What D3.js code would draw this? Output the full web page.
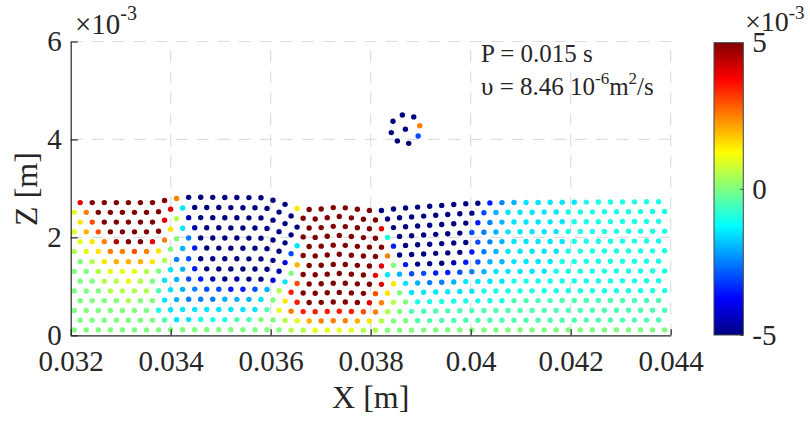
<!DOCTYPE html>
<html>
<head>
<meta charset="utf-8">
<script src="https://cdn.jsdelivr.net/npm/d3@7"></script>
<style>
  body { margin: 0; background: #fff; }
  svg text { font-family: "Liberation Serif", "Times New Roman", serif; fill: #262626; }
</style>
</head>
<body>
<div id="visualization"></div>
<script>
// one string per particle row, bottom row first (groups of 10 for reading).
// letter = particle value: a = -5, k = 0, u = +5 (x10^-3), 0.5 per letter
let rowValues = [
  "kkkkkkkkkk kkkkkkkkll mmmmllkkkk kkkkkkkkkk kkkkkkkkkk",
  "kkkkkkkjhh iiijjkklmo ppponlkkjj jjjjjjjjjj jjjjjjjjj",
  "kkkkkkkihh hhhhhhjmpr rrrrqplkjj jjjjjjjjjj jjjjjjjjjj",
  "kkkklkkhgf ffggghknru uuuusplkii iiiiiijjjj jjjjjjjjj",
  "kkklllljhg feeddeglru uuuuuqnkhh hhhhiiiiii iiiiiiiiii",
  "kkllmlkhge dbabaachqu uuuuusnhgf fghhhhiiii iiiiiiiii",
  "kklmmmlkhg daaaaaabku uuuuushgee ddefghhhhh iiiiiiiiii",
  "klnooonlfe aaaaaaacou uuuuuskdaa abdegghhhh iiiiiiiii",
  "lmnppqpnkg daaaaaaaeu uuuuuupaaa aaadfghhhh hiiiiiiiii",
  "mnptuuspkf aaaaaaaahu uuuuuudaaa aaaefghhhh hiiiiiiii",
  "moquuuuunh baaaaaaaau uuuuuuiaaa aaaefghhhh hiiiiiiiii",
  "nquuuuuslb aaaaaaaaau uuuuusaaaa aaadfghhhh hiiiiiiii",
  "mpuuuuuush aaaaaaaaau uuuuuuaaaa aaaaeghhhh hiiiiiiiii",
  "suuuuuuupa aaaaaaaanu uuuuuaaaaa aaaadfghhh hhiiiiiii"
];
let rowZ = [0.11, 0.31, 0.51, 0.71, 0.91, 1.11, 1.31, 1.51, 1.72, 1.92, 2.12, 2.32, 2.52, 2.72]; // x10^-3 m
let rowStartX = [0.03207, 0.03219]; // even rows, odd rows
let particleGap = 0.000241;

// free surface height along the tank (x10^-3 m)
let surfaceX = [0.0320, 0.03369, 0.03399, 0.03439, 0.03589, 0.03627, 0.03653, 0.03685, 0.03735, 0.03785, 0.03813, 0.03855, 0.03923, 0.03995, 0.04059, 0.0440];
let surfaceZ = [2.71, 2.71, 2.78, 2.82, 2.81, 2.68, 2.59, 2.56, 2.62, 2.56, 2.54, 2.59, 2.64, 2.69, 2.71, 2.73];

// droplet above the surface
let dropX = [0.038633, 0.038861, 0.038446, 0.038981, 0.038694, 0.038412, 0.038949, 0.038533, 0.038760];
let dropZ = [4.50, 4.46, 4.37, 4.28, 4.21, 4.14, 4.07, 3.97, 3.92];
let dropValues = [-5, -5, -5, 2.5, -5, -5, -3, -5, -5];

let xTicks = [0.032, 0.034, 0.036, 0.038, 0.04, 0.042, 0.044];
let xTickLabels = ["0.032", "0.034", "0.036", "0.038", "0.04", "0.042", "0.044"];
let zTicks = [0, 2, 4, 6];
let colorTicks = [-5, 0, 5];

let jetValues = [-5, -3.75, -1.25, 1.25, 3.75, 5];
let jetColors = ["#000080", "#0000ff", "#00ffff", "#ffff00", "#ff0000", "#800000"];

let serif = "'Liberation Serif', 'Times New Roman', serif";

let x = d3.scaleLinear().domain([0.032, 0.044]).range([70.7, 670.7]);
let z = d3.scaleLinear().domain([0, 6]).range([335.3, 41.5]);
let cbar = d3.scaleLinear().domain([-5, 5]).range([335, 42.7]);
let jet = d3.scaleLinear().domain(jetValues).range(jetColors).clamp(true);
let surface = d3.scaleLinear().domain(surfaceX).range(surfaceZ).clamp(true);

let particles = [];
rowValues.forEach((row, r) => {
  row.replace(/ /g, "").split("").forEach((c, i) => {
    let px = rowStartX[r % 2] + i * particleGap;
    particles.push({
      x: px,
      z: rowZ[r] * surface(px) / rowZ[rowZ.length - 1],
      v: (c.charCodeAt(0) - 97) * 0.5 - 5
    });
  });
});
dropX.forEach((d, i) => particles.push({x: d, z: dropZ[i], v: dropValues[i]}));

let svg = d3.select("#visualization").append("svg")
  .attr("width", 810)
  .attr("height", 421)
  .attr("font-family", serif);

// grid
svg.append("g").selectAll("line")
  .data(xTicks.slice(1))
  .enter().append("line")
  .attr("x1", d => x(d)).attr("x2", d => x(d))
  .attr("y1", z(0)).attr("y2", z(6))
  .attr("stroke", "#dedede").attr("stroke-width", 1.2)
  .attr("stroke-dasharray", "12,9");

svg.append("g").selectAll("line")
  .data(zTicks.slice(1))
  .enter().append("line")
  .attr("x1", x(0.032)).attr("x2", x(0.044))
  .attr("y1", d => z(d)).attr("y2", d => z(d))
  .attr("stroke", "#dedede").attr("stroke-width", 1.2)
  .attr("stroke-dasharray", "12,9");

// particles
svg.append("g").selectAll("circle")
  .data(particles)
  .enter().append("circle")
  .attr("cx", d => x(d.x))
  .attr("cy", d => z(d.z))
  .attr("r", 2.7)
  .attr("fill", d => jet(d.v));

// axes
let xAxis = svg.append("g")
  .attr("transform", "translate(0," + z(0) + ")")
  .call(d3.axisBottom(x).tickValues(xTicks).tickFormat((d, i) => xTickLabels[i])
    .tickSizeInner(-6).tickSizeOuter(0).tickPadding(15));

let zAxis = svg.append("g")
  .attr("transform", "translate(" + x(0.032) + ",0)")
  .call(d3.axisLeft(z).tickValues(zTicks).tickFormat(d => String(d))
    .tickSizeInner(-7).tickSizeOuter(0).tickPadding(9));

[xAxis, zAxis].forEach(a => {
  a.attr("font-family", serif);
  a.selectAll("path, line").attr("stroke", "#262626").attr("stroke-width", 1.2);
  a.selectAll("text").attr("font-size", 29).attr("fill", "#262626")
    .attr("font-family", serif).style("font-family", serif);
});

svg.append("text")
  .attr("x", 75).attr("y", 34)
  .attr("font-size", 29)
  .text("\u00d710")
  .append("tspan").attr("dy", -14).attr("font-size", 20).text("-3");

svg.append("text")
  .attr("x", x(0.038))
  .attr("y", 408)
  .attr("text-anchor", "middle")
  .attr("font-size", 32)
  .text("X [m]");

svg.append("text")
  .attr("transform", "translate(37,189) rotate(-90)")
  .attr("text-anchor", "middle")
  .attr("font-size", 32)
  .text("Z [m]");

// annotation
svg.append("text")
  .attr("x", 481).attr("y", 62)
  .attr("font-size", 25)
  .text("P = 0.015 s");

let nu = svg.append("text")
  .attr("x", 481).attr("y", 95)
  .attr("font-size", 25);
nu.append("tspan").text("\u03c5 = 8.46 10");
nu.append("tspan").attr("dy", -11).attr("font-size", 17).text("-6");
nu.append("tspan").attr("dy", 11).text("m");
nu.append("tspan").attr("dy", -11).attr("font-size", 17).text("2");
nu.append("tspan").attr("dy", 11).text("/s");

// colorbar
let grad = svg.append("defs").append("linearGradient")
  .attr("id", "jet")
  .attr("x1", 0).attr("y1", 1).attr("x2", 0).attr("y2", 0);
grad.selectAll("stop")
  .data(jetValues)
  .enter().append("stop")
  .attr("offset", d => (d + 5) / 10)
  .attr("stop-color", d => jet(d));

svg.append("rect")
  .attr("x", 714).attr("y", cbar(5))
  .attr("width", 29.3).attr("height", cbar(-5) - cbar(5))
  .attr("fill", "url(#jet)")
  .attr("stroke", "#444").attr("stroke-width", 1);

let cAxis = svg.append("g")
  .attr("transform", "translate(743.3,0)")
  .call(d3.axisRight(cbar).tickValues(colorTicks).tickFormat(d => String(d))
    .tickSizeInner(-3).tickSizeOuter(0).tickPadding(9));
cAxis.attr("font-family", serif);
cAxis.select(".domain").remove();
cAxis.selectAll("line").attr("stroke", "#444");
cAxis.selectAll("text").attr("font-size", 29).attr("fill", "#262626")
  .attr("font-family", serif).style("font-family", serif);

svg.append("text")
  .attr("x", 745).attr("y", 31)
  .attr("font-size", 28)
  .text("\u00d710")
  .append("tspan").attr("dy", -12).attr("font-size", 19).text("-3");
</script>
</body>
</html>
